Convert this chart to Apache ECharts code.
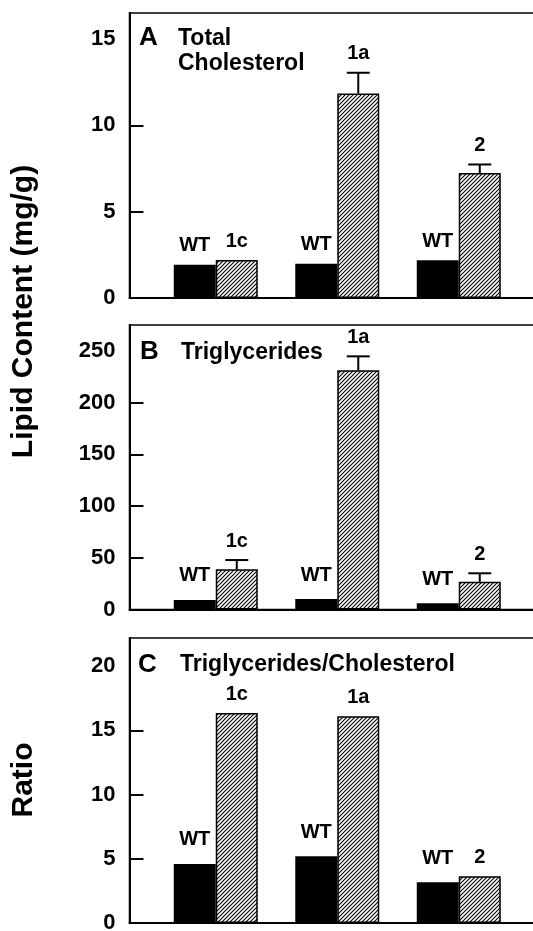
<!DOCTYPE html>
<html>
<head>
<meta charset="utf-8">
<script src="https://cdn.jsdelivr.net/npm/echarts@6/dist/echarts.min.js"></script>
<style>
html,body{margin:0;padding:0;background:#fff;}
#chart{width:533px;height:931px;}
</style>
</head>
<body>
<div id="chart"></div>
<script>
// ---- data ----
const categories = ['1c', '1a', '2'];
const groupPos = [1, 2, 3];
// Panel A: Total cholesterol (mg/g)
const cholWT = [1.92, 1.98, 2.19];
const cholMut = [2.2, 11.84, 7.23];
const cholErr = [0, 1.2, 0.5];
// Panel B: Triglycerides (mg/g)
const tgWT = [9.2, 10.1, 6.0];
const tgMut = [38.8, 231.2, 26.8];
const tgErr = [9, 13.5, 8.2];
// Panel C: Triglycerides/Cholesterol ratio
const ratioWT = [4.6, 5.2, 3.17];
const ratioMut = [16.35, 16.1, 3.64];
const ratioErr = [0, 0, 0];
// tick labels
const ticksA = [0, 5, 10, 15];
const ticksB = [0, 50, 100, 150, 200, 250];
const ticksC = [0, 5, 10, 15, 20];

// ---- styles ----
const FONT = "'Liberation Sans', Arial, Helvetica, sans-serif";
const BAR_W = 42;

function hatch() {
  const c = document.createElement('canvas');
  c.width = 4; c.height = 4;
  const g = c.getContext('2d');
  g.fillStyle = '#fff'; g.fillRect(0, 0, 4, 4);
  g.strokeStyle = '#000'; g.lineWidth = 1.1;
  g.beginPath();
  g.moveTo(-1, 5); g.lineTo(5, -1);
  g.moveTo(-1, 1); g.lineTo(1, -1);
  g.moveTo(3, 5); g.lineTo(5, 3);
  g.stroke();
  return c;
}
const hatchPattern = { image: hatch(), repeat: 'repeat' };

const panels = [
  { top: 13, height: 285, max: 16.5, interval: 5, ticks: ticksA, wt: cholWT, mut: cholMut, err: cholErr, wtDist: 9 },
  { top: 325, height: 284.5, max: 275, interval: 50, ticks: ticksB, wt: tgWT, mut: tgMut, err: tgErr, wtDist: 14 },
  { top: 638, height: 285, max: 22.2, interval: 5, ticks: ticksC, wt: ratioWT, mut: ratioMut, err: ratioErr, wtDist: 14 }
];

const grid = [], xAxis = [], yAxis = [], series = [];
panels.forEach((p, i) => {
  grid.push({ left: 129.5, width: 413.1, top: p.top, height: p.height, show: true, borderColor: '#000', borderWidth: 1.5,
    backgroundColor: 'transparent', outerBoundsMode: 'none', containLabel: false });
  xAxis.push({
    gridIndex: i, type: 'value', min: 0.29, max: 3.69,
    axisLine: { show: true, onZero: false, lineStyle: { color: '#000', width: 2 } },
    axisTick: { show: false }, axisLabel: { show: false }, splitLine: { show: false }
  });
  yAxis.push({
    gridIndex: i, type: 'value', min: 0, max: p.max, interval: p.interval,
    axisLine: { show: true, lineStyle: { color: '#000', width: 2 } },
    axisTick: { show: true, inside: true, length: 14, lineStyle: { color: '#000', width: 2 },
      customValues: p.ticks.slice(1, p.ticks.length - 1) },
    axisLabel: { customValues: p.ticks, color: '#000', fontSize: 22, fontWeight: 'bold', fontFamily: FONT, margin: 14 },
    splitLine: { show: false }
  });
  series.push({
    type: 'bar', xAxisIndex: i, yAxisIndex: i, barWidth: BAR_W, barGap: '0%',
    data: groupPos.map((x, k) => [x, p.wt[k]]),
    itemStyle: { color: '#000' },
    label: { show: true, position: 'top', distance: p.wtDist, formatter: 'WT', color: '#000', fontSize: 20, fontWeight: 'bold', fontFamily: FONT },
    emphasis: { disabled: true }, animation: false
  });
  series.push({
    type: 'bar', xAxisIndex: i, yAxisIndex: i, barWidth: BAR_W, barGap: '0%',
    data: groupPos.map((x, k) => [x, p.mut[k]]),
    itemStyle: { color: hatchPattern, borderColor: '#000', borderWidth: 1.5 },
    emphasis: { disabled: true }, animation: false
  });
  series.push({
    type: 'custom', xAxisIndex: i, yAxisIndex: i, clip: false, z: 10,
    data: groupPos.map((x, k) => [x, p.mut[k], p.err[k]]),
    encode: { x: 0, y: 1 },
    renderItem: function (params, api) {
      const x = api.value(0), v = api.value(1), e = api.value(2);
      const base = api.coord([x, v]);
      const top = api.coord([x, v + e]);
      const cx = base[0] + BAR_W / 2;
      const children = [];
      if (e > 0) {
        children.push({ type: 'line', shape: { x1: cx, y1: base[1], x2: cx, y2: top[1] }, style: { stroke: '#000', lineWidth: 2 } });
        children.push({ type: 'line', shape: { x1: cx - 11.5, y1: top[1], x2: cx + 11.5, y2: top[1] }, style: { stroke: '#000', lineWidth: 2 } });
      }
      children.push({ type: 'text', style: { text: categories[params.dataIndex], x: cx, y: top[1] - 19, align: 'center', verticalAlign: 'middle',
        fill: '#000', fontSize: 20, fontWeight: 'bold', fontFamily: FONT } });
      return { type: 'group', children: children };
    },
    animation: false
  });
});

const txt = (text, x, y, size) => ({ type: 'text', x: x, y: y,
  style: { text: text, fill: '#000', fontSize: size, fontWeight: 'bold', fontFamily: FONT, align: 'left', verticalAlign: 'middle' } });
const vtxt = (text, x, y, size) => ({ type: 'text', x: x, y: y, rotation: Math.PI / 2,
  style: { text: text, fill: '#000', fontSize: size, fontWeight: 'bold', fontFamily: FONT, align: 'center', verticalAlign: 'middle' } });

const graphic = [
  txt('A', 139, 38, 26),
  txt('Total', 178, 38.5, 23),
  txt('Cholesterol', 178, 64, 23),
  txt('B', 140, 352, 26),
  txt('Triglycerides', 181, 353, 23),
  txt('C', 138, 665, 26),
  txt('Triglycerides/Cholesterol', 180, 665, 23),
  vtxt('Lipid Content (mg/g)', 24, 311.5, 30),
  vtxt('Ratio', 24, 780, 30)
];

const chart = echarts.init(document.getElementById('chart'), null, { renderer: 'canvas' });
chart.setOption({ animation: false, backgroundColor: '#fff', grid, xAxis, yAxis, series, graphic });
</script>
</body>
</html>
